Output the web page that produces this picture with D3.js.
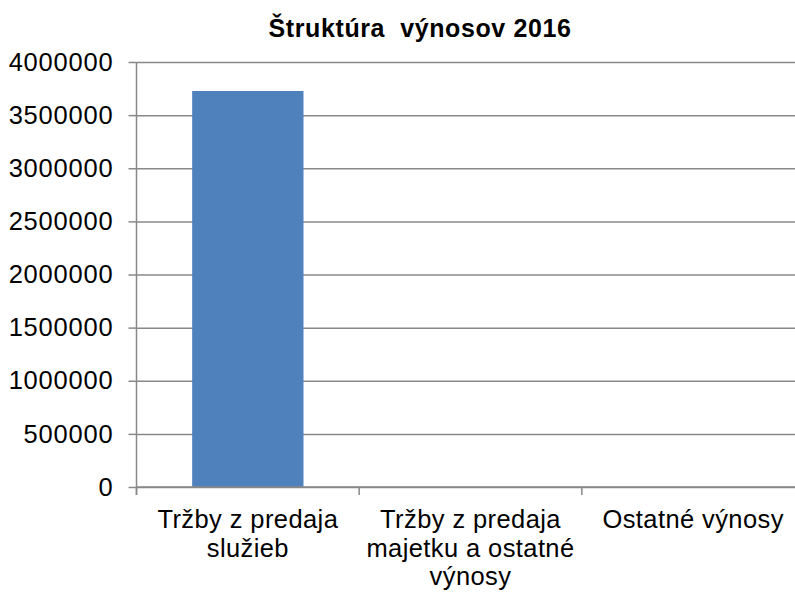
<!DOCTYPE html>
<html>
<head>
<meta charset="utf-8">
<script src="https://cdn.jsdelivr.net/npm/d3@7"></script>
<style>
  body { margin: 0; background: #fff; }
  text { font-family: "Liberation Sans", Arial, sans-serif; fill: #000; }
</style>
</head>
<body>
<div id="viz"></div>
<script>
const categories = [
  "Tržby z predaja služieb",
  "Tržby z predaja majetku a ostatné výnosy",
  "Ostatné výnosy"
];
const values = [3727000, 0, 0];
const yTicks = [0, 500000, 1000000, 1500000, 2000000, 2500000, 3000000, 3500000, 4000000];
const title = "Štruktúra  výnosov 2016";

const width = 795,
  height = 595,
  margin = { top: 62, left: 136.5 },
  plotW = 668,
  plotH = 425;

const svg = d3
  .select("#viz")
  .append("svg")
  .attr("width", width)
  .attr("height", height);

const g = svg
  .append("g")
  .attr("transform", `translate(${margin.left}, ${margin.top})`);

const xScale = d3
  .scaleBand()
  .domain(categories)
  .range([0, plotW])
  .paddingInner(0.5)
  .paddingOuter(0.25);

const yScale = d3
  .scaleLinear()
  .domain([0, 4000000])
  .range([plotH, 0]);

//GRIDLINES
g.append("g")
  .attr("class", "grid")
  .call(d3.axisLeft(yScale).tickValues(yTicks).tickSize(-plotW).tickFormat(""))
  .call(s => s.select(".domain").remove())
  .selectAll("line")
  .attr("stroke", "#888")
  .attr("stroke-width", 1.5);

//BARS
g.selectAll("rect")
  .data(values)
  .enter()
  .append("rect")
  .attr("x", (d, i) => xScale(categories[i]))
  .attr("y", d => yScale(d))
  .attr("width", xScale.bandwidth())
  .attr("height", d => plotH - yScale(d))
  .attr("fill", "#4F81BD");

//Y-AXIS
const yAxisG = g
  .append("g")
  .call(d3.axisLeft(yScale).tickValues(yTicks).tickSize(8).tickPadding(15).tickFormat(d3.format("d")));
yAxisG.select(".domain").attr("stroke", "#888").attr("stroke-width", 1.5).attr("d", `M0,0V${plotH + 8}`);
yAxisG.selectAll("line").attr("stroke", "#888").attr("stroke-width", 1.5);
yAxisG.selectAll("text")
  .style("font-family", "'Liberation Sans', Arial, sans-serif")
  .style("font-size", "25.5px")
  .style("letter-spacing", "0.8px")
  .attr("fill", "#000");

//X-AXIS
const step = xScale.step();
const xAxisG = g.append("g").attr("transform", `translate(0, ${plotH})`);
xAxisG
  .append("line")
  .attr("x1", 0)
  .attr("x2", plotW)
  .attr("stroke", "#888")
  .attr("stroke-width", 1.5);
xAxisG
  .selectAll(".cat-tick")
  .data(d3.range(categories.length + 1))
  .enter()
  .append("line")
  .attr("class", "cat-tick")
  .attr("x1", i => i * step)
  .attr("x2", i => i * step)
  .attr("y1", 0)
  .attr("y2", 8)
  .attr("stroke", "#888")
  .attr("stroke-width", 1.5);

const labels = xAxisG
  .selectAll(".cat-label")
  .data(categories)
  .enter()
  .append("text")
  .attr("class", "cat-label")
  .attr("x", d => xScale(d) + xScale.bandwidth() / 2)
  .attr("y", 41)
  .attr("text-anchor", "middle")
  .style("font-size", "25.5px")
  .style("letter-spacing", "0.4px");

// wrap labels into lines that fit the band
labels.each(function(d) {
  const text = d3.select(this);
  const words = d.split(" ");
  const x = text.attr("x");
  let line = [];
  let tspan = text.append("tspan").attr("x", x).attr("dy", 0);
  words.forEach(w => {
    line.push(w);
    tspan.text(line.join(" "));
    if (tspan.node().getComputedTextLength() > 215 && line.length > 1) {
      line.pop();
      tspan.text(line.join(" "));
      line = [w];
      tspan = text.append("tspan").attr("x", x).attr("dy", 28.5).text(w);
    }
  });
});

//TITLE
svg
  .append("text")
  .attr("x", 420)
  .attr("y", 37)
  .attr("text-anchor", "middle")
  .style("font-size", "25px")
  .style("font-weight", "bold")
  .style("letter-spacing", "0.6px")
  .style("white-space", "pre")
  .text(title);
</script>
</body>
</html>
